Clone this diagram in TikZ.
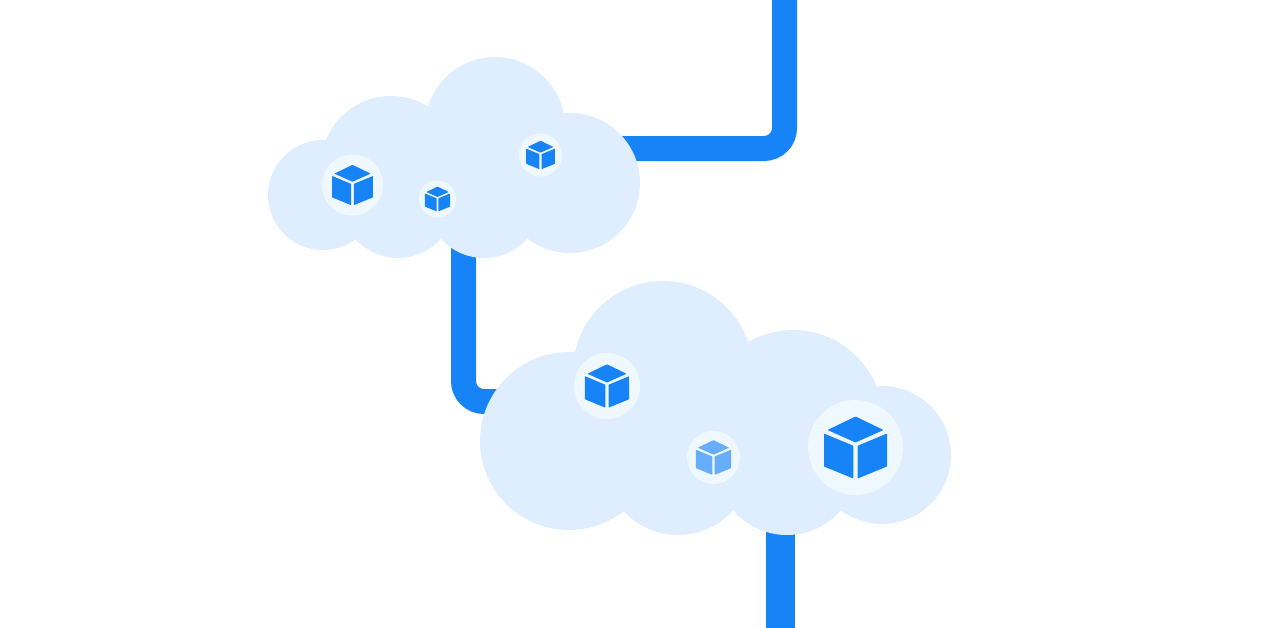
\documentclass[tikz,border=0pt]{standalone}
\definecolor{pipeblue}{HTML}{1684F7}
\definecolor{cloudblue}{HTML}{DFEEFE}
\definecolor{haloblue}{HTML}{F0F8FF}
\definecolor{paleblue}{HTML}{66AEFB}
\tikzset{
    pipeline/.style={line width=25pt, color=pipeblue, rounded corners=20.5pt},
    halo/.style={circle, fill=haloblue, inner sep=0pt, minimum size=#1},
    cube/.pic={
        \path[pic actions, rounded corners=0.6pt] (0,-31) -- (-28,-17.5) -- (0,-5) -- (28,-17.5) -- cycle;
        \path[pic actions, rounded corners=0.6pt] (-31.5,-14) -- (-2.2,-1.8) -- (-2.2,31) -- (-31.5,19) -- cycle;
        \path[pic actions, rounded corners=0.6pt] (31.5,-14) -- (2.2,-1.8) -- (2.2,31) -- (31.5,19) -- cycle;
    }
}
\begin{document}
\begin{tikzpicture}[x=1pt, y=-1pt]
    \useasboundingbox (0,0) rectangle (1263,627);
    % pipes under the clouds
    \coordinate (topin) at (784.5,-5);
    \coordinate (topout) at (600,148.5);
    \coordinate (midin) at (463.5,230);
    \coordinate (midout) at (520,401.5);
    \coordinate (lowin) at (780.5,510);
    \coordinate (lowout) at (780.5,632);
    \draw[pipeline] (topin) |- (topout);
    \draw[pipeline] (midin) |- (midout);
    \draw[pipeline, line width=29pt] (lowin) -- (lowout);
    % upper cloud
    \foreach \x/\y/\r in {323/195/55, 391/166/70, 495/127/70, 570/183/70, 398/200/58, 484/200/58}
        \fill[cloudblue] (\x,\y) circle (\r pt);
    \fill[cloudblue] (323,160) rectangle (570,225);
    % lower cloud
    \foreach \x/\y/\r in {569/441/89, 663/371/90, 793/420/90, 882/455/69, 678/461/74, 787/464/71}
        \fill[cloudblue] (\x,\y) circle (\r pt);
    \fill[cloudblue] (600,400) rectangle (840,490);
    % boxes
    \foreach \name/\x/\y/\d/\s/\c in {
        boxa/352.5/185/61/0.65/pipeblue,
        boxb/437.5/199/37/0.40/pipeblue,
        boxc/540.5/155/43/0.46/pipeblue,
        boxd/607/386/66/0.70/pipeblue,
        boxe/713.5/457.5/53/0.56/paleblue,
        boxf/855.5/447.5/95/1/pipeblue}
    {
        \node[halo=\d pt] (\name) at (\x,\y) {};
        \pic[scale=\s, fill=\c] at (\name.center) {cube};
    }
\end{tikzpicture}
\end{document}
